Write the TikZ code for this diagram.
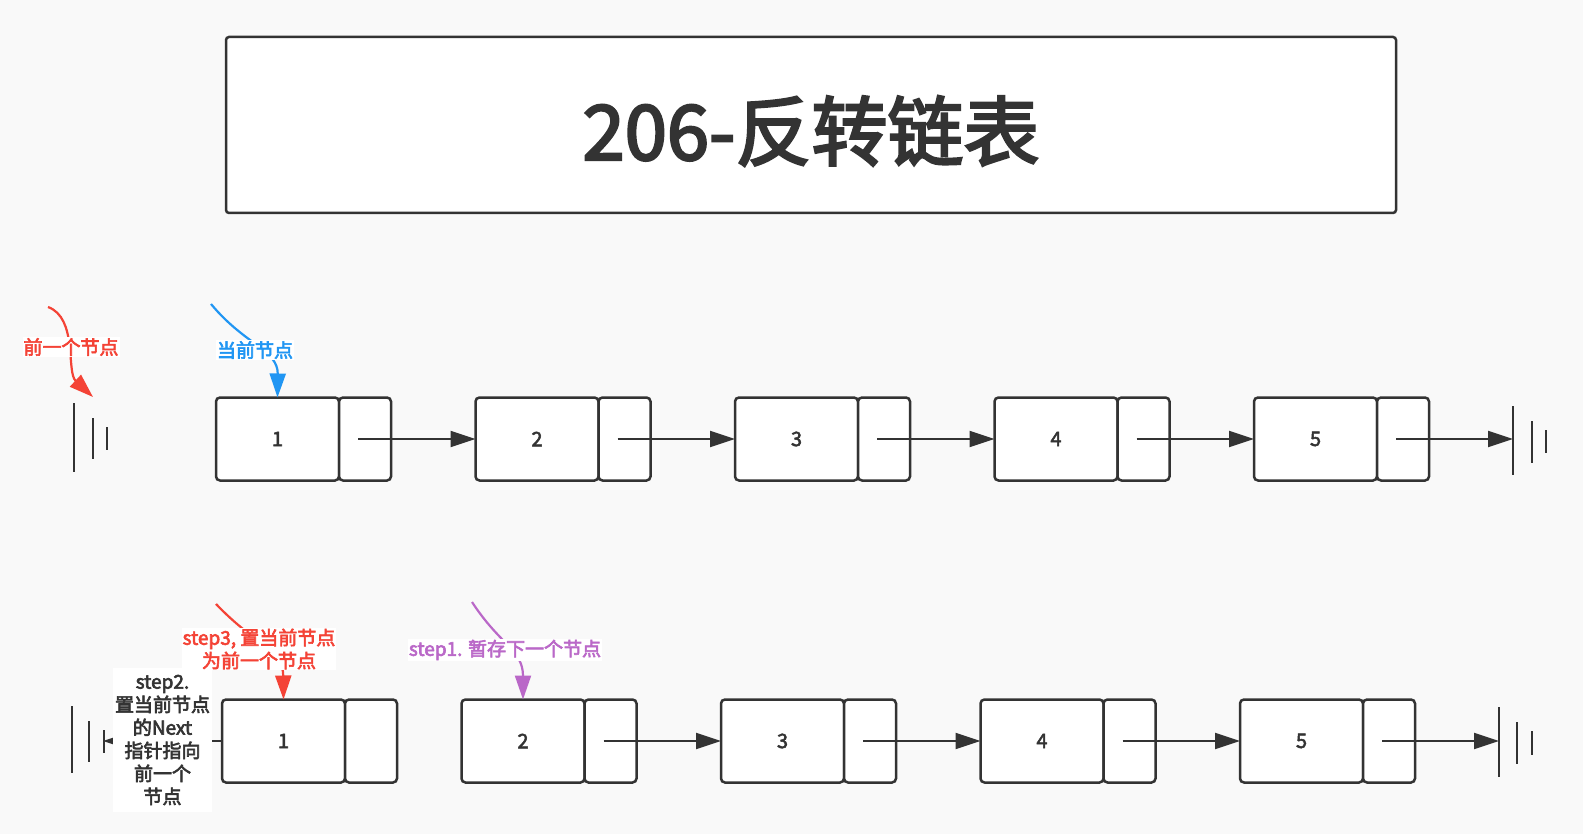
\documentclass[tikz,border=0pt]{standalone}
\usepackage{fontspec}
\setmainfont{Noto Sans CJK SC}
\usetikzlibrary{arrows.meta}
\newcommand\heavytext[2]{\special{pdf:literal q 2 Tr #1 w}#2\special{pdf:literal Q}}
\definecolor{ink}{HTML}{333333}
\definecolor{bgc}{HTML}{F9F9F9}
\definecolor{cred}{HTML}{F44336}
\definecolor{cblue}{HTML}{2196F3}
\definecolor{cpurple}{HTML}{BA68C8}
\tikzset{
  databox/.style={draw=ink, line width=2.5pt, fill=white, rounded corners=4pt,
    minimum width=123pt, minimum height=83pt, inner sep=0pt, outer sep=0pt,
    font=\fontsize{20}{24}\selectfont, text=ink},
  ptrbox/.style={draw=ink, line width=2.5pt, fill=white, rounded corners=4pt,
    minimum width=52pt, minimum height=83pt, inner sep=0pt, outer sep=0pt, anchor=west},
  conn/.style={draw=ink, line width=2.2pt, -{Triangle[length=25pt,width=16pt]}},
  gnd/.style={draw=ink, line width=2.5pt},
  lab/.style={fill=white, inner sep=1pt, font=\fontsize{19}{23}\selectfont},
  ann/.style={line width=2.2pt, -{Triangle[length=24pt,width=16pt]}},
}
\begin{document}
\begin{tikzpicture}[x=1pt,y=-1pt]
\fill[bgc] (0,0) rectangle (1583,834);
\useasboundingbox (0,0) rectangle (1583,834);

% title
\node[draw=ink, line width=2.5pt, fill=white, rounded corners=3pt, minimum width=1170pt,
  minimum height=176pt, inner sep=0pt] (title) at (811,125) {};
\node[font=\fontsize{76}{80}\selectfont, text=ink, inner sep=0pt]
  (titletext) at (811,131) {\heavytext{2.4}{206-反转链表}};

% ---------- top row ----------
\foreach \i/\x in {1/277.5,2/537,3/796.5,4/1056,5/1315.5}{
  \node[databox] (d\i) at (\x,439) {\heavytext{0.5}{\i}};
  \node[ptrbox] (p\i) at (d\i.east) {};
}
\foreach \i/\j in {1/2,2/3,3/4,4/5}{
  \draw[conn] ([xshift=19pt]p\i.west) -- (d\j.west);
}
\coordinate (gR1) at (1513,439);
\draw[conn] ([xshift=19pt]p5.west) -- (gR1);
\draw[gnd] (1513,406) -- (1513,475);
\draw[gnd] (1532,421) -- (1532,463);
\draw[gnd] (1546,430) -- (1546,453);

\coordinate (gL1) at (93,397);
\draw[gnd] (74,403) -- (74,472);
\draw[gnd] (93,418) -- (93,459);
\draw[gnd] (107,427) -- (107,450);

% annotations top
\coordinate (aprev) at (48,307);
\draw[ann, cred] (aprev) .. controls (78,318) and (66,372) .. (gL1);
\node[lab, text=cred] (lprev) at (71,347) {\heavytext{0.6}{前一个节点}};
\coordinate (acur) at (211,304);
\draw[ann, cblue] (acur) .. controls (245,345) and (278,350) .. (d1.north);
\node[lab, text=cblue] (lcur) at (255,350) {\heavytext{0.6}{当前节点}};

% ---------- bottom row ----------
\node[databox] (b1) at (283.5,741) {\heavytext{0.5}{1}};
\node[ptrbox] (q1) at (b1.east) {};
\foreach \i/\x in {2/523,3/782.5,4/1042,5/1301.5}{
  \node[databox] (b\i) at (\x,741) {\heavytext{0.5}{\i}};
  \node[ptrbox] (q\i) at (b\i.east) {};
}
\foreach \i/\j in {2/3,3/4,4/5}{
  \draw[conn] ([xshift=19pt]q\i.west) -- (b\j.west);
}
\coordinate (gR2) at (1499,741);
\draw[conn] ([xshift=19pt]q5.west) -- (gR2);
\draw[gnd] (1499,707) -- (1499,777);
\draw[gnd] (1517,722) -- (1517,764);
\draw[gnd] (1532,731) -- (1532,755);

\coordinate (gL2) at (103,741);
\draw[gnd] (72,706) -- (72,773);
\draw[gnd] (89,721) -- (89,762);
\draw[gnd] (104,730) -- (104,753);
\draw[conn] (b1.west) -- (gL2);

\node[lab, text=ink, align=center, inner sep=0pt, minimum width=99pt, minimum height=144pt]
  (lstep2) at (162.5,740) {\heavytext{0.6}{step2.\\置当前节点\\的Next\\指针指向\\前一个\\节点}};

\coordinate (astep3) at (216,604);
\draw[ann, cred] (astep3) .. controls (255,645) and (283,650) .. (b1.north);
\node[lab, text=cred, align=center] (lstep3) at (259,649) {\heavytext{0.6}{step3, 置当前节点\\为前一个节点}};

\coordinate (astep1) at (472,602);
\draw[ann, cpurple] (astep1) .. controls (500,645) and (523,650) .. (b2.north);
\node[lab, text=cpurple] (lstep1) at (505,650) {\heavytext{0.6}{step1. 暂存下一个节点}};
\end{tikzpicture}
\end{document}
